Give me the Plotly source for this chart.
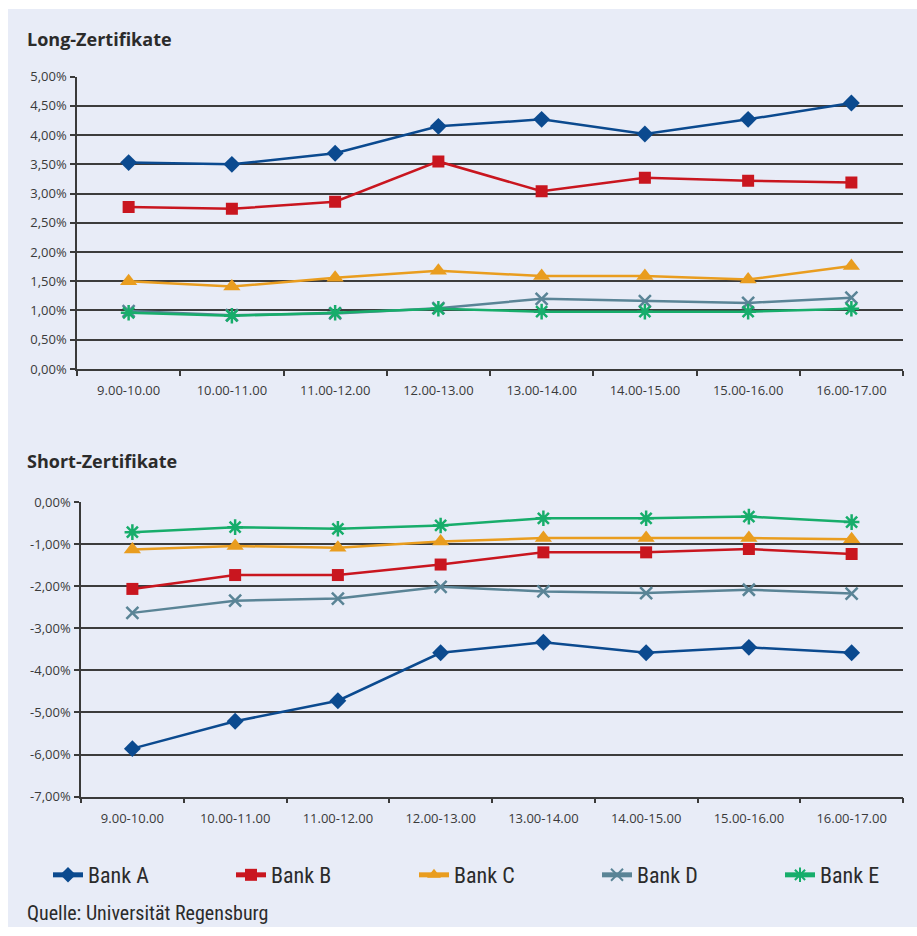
import plotly.graph_objects as go

W, H = 917, 936

categories = ["9.00-10.00", "10.00-11.00", "11.00-12.00", "12.00-13.00",
              "13.00-14.00", "14.00-15.00", "15.00-16.00", "16.00-17.00"]

banks = ["Bank A", "Bank B", "Bank C", "Bank D", "Bank E"]

long_a = [3.53, 3.50, 3.69, 4.15, 4.27, 4.02, 4.27, 4.55]
long_b = [2.77, 2.74, 2.86, 3.55, 3.04, 3.27, 3.22, 3.19]
long_c = [1.50, 1.41, 1.56, 1.68, 1.59, 1.59, 1.53, 1.76]
long_d = [0.99, 0.92, 0.95, 1.04, 1.20, 1.16, 1.13, 1.22]
long_e = [0.96, 0.91, 0.96, 1.03, 0.98, 0.98, 0.98, 1.03]

short_a = [-5.86, -5.21, -4.72, -3.58, -3.33, -3.58, -3.45, -3.58]
short_b = [-2.06, -1.73, -1.73, -1.48, -1.19, -1.19, -1.11, -1.23]
short_c = [-1.12, -1.04, -1.08, -0.93, -0.85, -0.85, -0.85, -0.88]
short_d = [-2.63, -2.34, -2.29, -2.01, -2.12, -2.16, -2.08, -2.17]
short_e = [-0.71, -0.59, -0.63, -0.55, -0.38, -0.38, -0.34, -0.47]

long_ticks = [0.0, 0.5, 1.0, 1.5, 2.0, 2.5, 3.0, 3.5, 4.0, 4.5, 5.0]
short_ticks = [0, -1, -2, -3, -4, -5, -6, -7]

colors = ["#0b4a8f", "#c9161f", "#e99d1f", "#5a8496", "#17ad6b"]
symbols = ["diamond", "square", "triangle-up", "x-thin-open", "asterisk-open"]
sizes = [13, 12, 15, 12, 13]

BG = "#e8ecf7"


def px(x):
    return x / W


def py(y):
    return 1 - y / H


def pct(v):
    return ("%.2f" % v).replace(".", ",") + "%"


fig = go.Figure()

long_series = [long_a, long_b, long_c, long_d, long_e]
short_series = [short_a, short_b, short_c, short_d, short_e]
legend_ids = ["legend", "legend2", "legend3", "legend4", "legend5"]


def marker(i):
    mk = dict(symbol=symbols[i], size=sizes[i], color=colors[i])
    if symbols[i].endswith("open"):
        mk["line"] = dict(color=colors[i], width=2.5)
    else:
        mk["line"] = dict(width=0)
    return mk


for i, name in enumerate(banks):
    fig.add_trace(go.Scatter(x=categories, y=long_series[i], name=name, mode="lines+markers",
                             line=dict(color=colors[i], width=2.5), marker=marker(i),
                             xaxis="x", yaxis="y", legendgroup=name, showlegend=True,
                             legend=legend_ids[i]))
for i, name in enumerate(banks):
    fig.add_trace(go.Scatter(x=categories, y=short_series[i], name=name, mode="lines+markers",
                             line=dict(color=colors[i], width=2.5), marker=marker(i),
                             xaxis="x2", yaxis="y2", legendgroup=name, showlegend=False,
                             legend=legend_ids[i]))

tick_font = dict(family="Open Sans, Lato, sans-serif", size=13, color="#3a3a3a")
grid_col = "#3c3c3c"
narrow = "Liberation Sans Narrow, Roboto Condensed, Roboto, Noto Sans"


def xax(x0, x1, anchor):
    return dict(domain=[px(x0), px(x1)], anchor=anchor, type="category",
                categoryorder="array", categoryarray=categories,
                range=[-0.5, 7.5], tickson="boundaries", ticks="outside", ticklen=5,
                tickwidth=1.5, tickcolor="#3a3a3a", showline=True, linecolor="#3a3a3a",
                linewidth=1.5, showgrid=False, tickfont=tick_font, ticklabelstandoff=9,
                zeroline=False, fixedrange=True)


def yax(top_px, bot_px, anchor, ticks, rng):
    return dict(domain=[py(bot_px), py(top_px)], anchor=anchor,
                range=rng, tickvals=ticks, ticktext=[pct(t) for t in ticks],
                ticks="outside", ticklen=5, tickwidth=1.5, tickcolor="#3a3a3a",
                showline=True, linecolor="#3a3a3a", linewidth=1.5,
                showgrid=True, gridcolor=grid_col, gridwidth=1.5,
                zeroline=False, tickfont=tick_font, ticklabelstandoff=1, fixedrange=True)


legend_text_x = [88, 271, 454, 637, 820]
legends = {}
for i, lid in enumerate(legend_ids):
    legends[lid] = dict(orientation="h", x=px(legend_text_x[i] - 40), y=py(883),
                        xanchor="left", yanchor="middle", bgcolor="rgba(0,0,0,0)",
                        borderwidth=0,
                        font=dict(family=narrow, size=22, color="#2b2b2b"),
                        itemsizing="constant")

fig.update_layout(
    width=W, height=H,
    margin=dict(l=0, r=0, t=0, b=0),
    paper_bgcolor="#ffffff",
    plot_bgcolor="rgba(0,0,0,0)",
    xaxis=xax(77, 903, "y"),
    yaxis=yax(69, 367, "x", long_ticks, [0, 5]),
    xaxis2=xax(81, 903, "y2"),
    yaxis2=yax(503, 803, "x2", short_ticks, [-7, 0]),
    showlegend=True,
    **legends,
    shapes=[dict(type="rect", xref="paper", yref="paper", x0=px(8), x1=1, y0=0, y1=1,
                 fillcolor=BG, line=dict(width=0), layer="below")],
    annotations=[
        dict(text="<b>Long-Zertifikate</b>", xref="paper", yref="paper", x=px(25), y=py(31),
             xanchor="left", yanchor="middle", showarrow=False,
             font=dict(family="Open Sans, sans-serif", size=18, color="#2b2b2b")),
        dict(text="<b>Short-Zertifikate</b>", xref="paper", yref="paper", x=px(25), y=py(461),
             xanchor="left", yanchor="middle", showarrow=False,
             font=dict(family="Open Sans, sans-serif", size=18, color="#2b2b2b")),
        dict(text="Quelle: Universität Regensburg", xref="paper", yref="paper", x=px(25), y=0,
             xanchor="left", yanchor="bottom", showarrow=False,
             font=dict(family=narrow, size=20, color="#2b2b2b")),
    ],
)

fig.write_html("out.html")
